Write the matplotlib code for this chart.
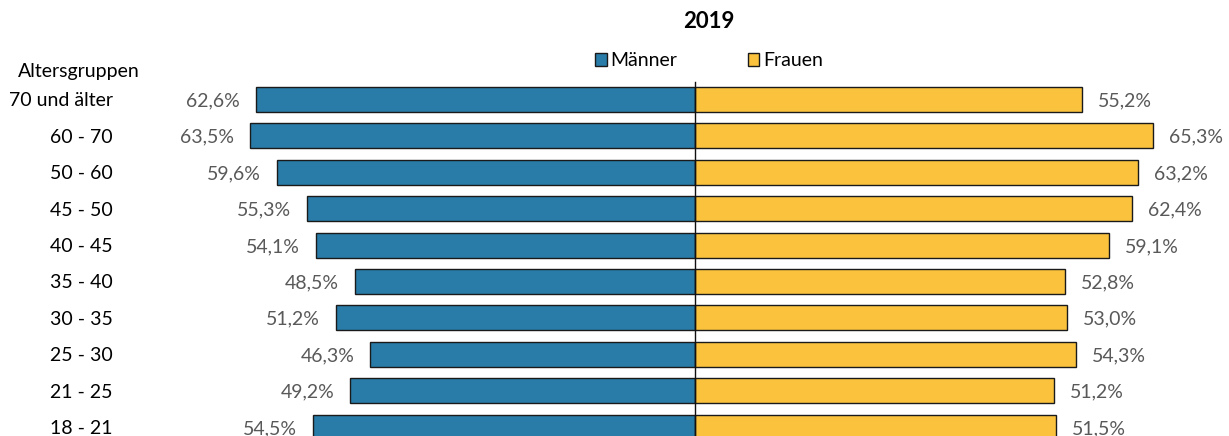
import matplotlib
matplotlib.use("Agg")
import matplotlib.pyplot as plt
import matplotlib.transforms as mtransforms
from matplotlib.patches import Patch

categories = ["70 und älter", "60 - 70", "50 - 60", "45 - 50", "40 - 45",
              "35 - 40", "30 - 35", "25 - 30", "21 - 25", "18 - 21"]
maenner = [62.6, 63.5, 59.6, 55.3, 54.1, 48.5, 51.2, 46.3, 49.2, 54.5]
frauen = [55.2, 65.3, 63.2, 62.4, 59.1, 52.8, 53.0, 54.3, 51.2, 51.5]
title = "2019"
ylabel_title = "Altersgruppen"
series_names = ["Männer", "Frauen"]

blue = "#2A7CA8"
yellow = "#FBC23E"
edge = "#1a1a1a"
font = ["Lato", "DejaVu Sans"]
plt.rcParams["font.family"] = font
fs = 14

W, H = 1229, 436
fig = plt.figure(figsize=(W / 100, H / 100), dpi=100)

# axes geometry in pixels
cx = 695.0
pxper = 7.01
xlim = 70
top_px = 82.0
row_px = 36.4
ymin_val = -0.48
ymax_val = 9.52
bottom_px = top_px + (ymax_val - ymin_val) * row_px
left_px = cx - xlim * pxper
right_px = cx + xlim * pxper
ax = fig.add_axes([left_px / W, 1 - bottom_px / H, (right_px - left_px) / W,
                   (bottom_px - top_px) / H])
ax.set_xlim(-xlim, xlim)
ax.set_ylim(ymax_val, ymin_val)
ax.axis("off")

ys = list(range(len(categories)))
ax.barh(ys, [-v for v in maenner], height=0.69, color=blue, edgecolor=edge, linewidth=1.0)
ax.barh(ys, frauen, height=0.69, color=yellow, edgecolor=edge, linewidth=1.0)
ax.plot([0, 0], [ymin_val, ymax_val], color="#111111", lw=1.0, clip_on=False)

lab_col = "#595959"
for y, m, f in zip(ys, maenner, frauen):
    ax.annotate(f"{m:.1f}%".replace(".", ","), (-m, y), xytext=(-16, -1.5),
                textcoords="offset pixels", ha="right", va="center",
                fontsize=fs, color=lab_col)
    ax.annotate(f"{f:.1f}%".replace(".", ","), (f, y), xytext=(16, -1.5),
                textcoords="offset pixels", ha="left", va="center",
                fontsize=fs, color=lab_col)

# category labels (right-aligned at x=113 px)
trans = mtransforms.blended_transform_factory(fig.transFigure, ax.transData)
trans = trans + mtransforms.ScaledTranslation(0, -1.5 / 100, fig.dpi_scale_trans)
for y, c in zip(ys, categories):
    ax.text(113 / W, y, c, transform=trans, ha="right", va="center",
            fontsize=fs, color="black", clip_on=False)

fig.text(18 / W, 1 - 72 / H, ylabel_title, ha="left", va="center",
         fontsize=fs, color="black")
fig.text(709 / W, 1 - 21 / H, title, ha="center", va="center",
         fontsize=16, fontweight="bold", color="black")

handles = [Patch(facecolor=blue, edgecolor=edge, linewidth=1.0),
           Patch(facecolor=yellow, edgecolor=edge, linewidth=1.0)]
leg = fig.legend(handles, series_names, loc="center", bbox_to_anchor=(709 / W, 1 - 61 / H),
                 ncol=2, frameon=False, fontsize=fs, handlelength=0.6,
                 handleheight=0.6, handletextpad=0.2, columnspacing=3.6,
                 borderpad=0)

fig.savefig("out.png", dpi=100)
